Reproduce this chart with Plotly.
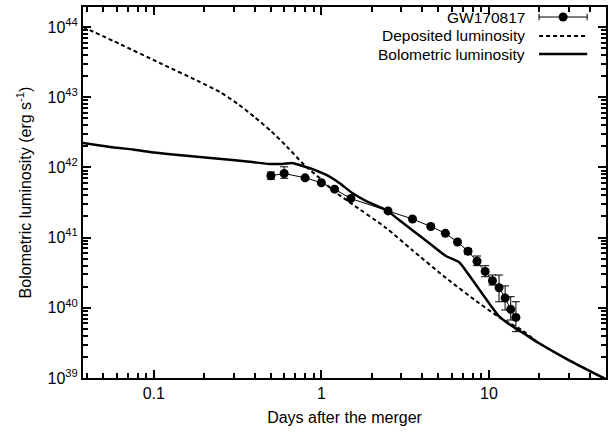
import plotly.graph_objects as go

# Observed GW170817 bolometric light curve
t_obs = [0.5, 0.6, 0.8, 1.0, 1.2, 1.5, 2.5, 3.5, 4.5, 5.5, 6.5, 7.5, 8.5, 9.5, 10.5, 11.5, 12.5, 13.5, 14.5]
L_obs = [7.6e41, 8.2e41, 7.1e41, 6.05e41, 4.9e41, 3.6e41, 2.4e41, 1.84e41, 1.44e41, 1.15e41,
         8.65e40, 6.4e40, 4.6e40, 3.3e40, 2.43e40, 1.93e40, 1.38e40, 9.5e39, 7.3e39]
L_hi = [8.6e41, 1.02e42, 7.1e41, 6.05e41, 4.9e41, 3.6e41, 2.4e41, 1.84e41, 1.44e41, 1.15e41,
        8.65e40, 7.0e40, 5.47e40, 3.98e40, 2.93e40, 2.93e40, 2.05e40, 1.44e40, 1.22e40]
L_lo = [6.77e41, 7.0e41, 7.1e41, 6.05e41, 4.9e41, 3.6e41, 2.4e41, 1.84e41, 1.44e41, 1.15e41,
        8.65e40, 5.8e40, 3.98e40, 2.77e40, 2.11e40, 1.22e40, 9.3e39, 6.7e39, 4.57e39]

# Deposited luminosity (model)
t_dep = [0.0378, 0.0628, 0.1086, 0.188, 0.25, 0.32, 0.40, 0.50, 0.62, 0.792, 1.0, 1.163, 1.468,
         2.437, 3.481, 5.546, 8.72, 11.47, 15.72, 19.84, 29.94, 50.0]
L_dep = [1.0e44, 5.72e43, 3.07e43, 1.65e43, 1.17e43, 7.9e42, 5.2e42, 3.3e42, 2.0e42, 1.08e42,
         6.7e41, 4.77e41, 3.21e41, 1.37e41, 6.66e40, 2.66e40, 1.17e40, 7.39e39, 4.83e39,
         3.15e39, 1.80e39, 0.96e39]

# Bolometric luminosity (model)
t_bol = [0.0378, 0.0477, 0.060, 0.075, 0.0947, 0.13, 0.188, 0.295, 0.388, 0.49, 0.586, 0.672,
         0.74, 0.848, 1.071, 1.28, 1.53, 1.853, 2.437, 2.912, 3.481, 4.394, 5.546, 6.628, 7.603,
         8.72, 10.0, 11.47, 13.71, 15.72, 19.84, 29.94, 50.0]
L_bol = [2.23e42, 2.05e42, 1.9e42, 1.8e42, 1.66e42, 1.53e42, 1.41e42, 1.275e42, 1.19e42,
         1.12e42, 1.12e42, 1.155e42, 1.08e42, 9.8e41, 7.8e41, 6.0e41, 4.32e41, 3.32e41,
         2.47e41, 1.78e41, 1.28e41, 8.38e40, 5.47e40, 4.49e40, 2.93e40, 1.85e40, 1.17e40,
         7.64e39, 5.5e39, 4.5e39, 3.15e39, 1.80e39, 0.96e39]

legend_labels = ["GW170817", "Deposited luminosity", "Bolometric luminosity"]

x_major = [0.1, 1, 10]
x_major_text = ["0.1", "1", "10"]
y_major = [1e39, 1e40, 1e41, 1e42, 1e43, 1e44]
y_major_text = ["10<sup>39</sup>", "10<sup>40</sup>", "10<sup>41</sup>", "10<sup>42</sup>",
                "10<sup>43</sup>", "10<sup>44</sup>"]
x_minor = [m * 10.0 ** e for e in (-2, -1, 0, 1) for m in range(2, 10)]
y_minor = [m * 10.0 ** e for e in range(39, 45) for m in range(2, 10)]

X_RANGE = [-1.4226, 1.6990]
Y_RANGE = [39, 44.285]

FONT = "Liberation Sans, Arial, sans-serif"

fig = go.Figure()

fig.add_trace(go.Scatter(
    x=t_dep, y=L_dep, mode="lines", line_shape="spline",
    line=dict(color="black", width=2, dash="4px,3px", smoothing=0.6),
    showlegend=False,
))
fig.add_trace(go.Scatter(
    x=t_bol, y=L_bol, mode="lines", line_shape="spline",
    line=dict(color="black", width=2.5, smoothing=0.6),
    showlegend=False,
))
fig.add_trace(go.Scatter(
    x=t_obs, y=L_obs, mode="lines+markers",
    line=dict(color="black", width=1),
    marker=dict(color="black", size=9),
    error_y=dict(type="data", symmetric=False,
                 array=[h - v for h, v in zip(L_hi, L_obs)],
                 arrayminus=[v - l for v, l in zip(L_obs, L_lo)],
                 color="black", thickness=1, width=4),
    showlegend=False,
))
# invisible trace that activates the overlay axes carrying the minor ticks
fig.add_trace(go.Scatter(x=[t_obs[0]], y=[L_obs[0]], xaxis="x2", yaxis="y2", mode="markers",
                         marker=dict(opacity=0), showlegend=False, hoverinfo="skip"))

# gnuplot-style legend (text right aligned, sample on the right)
rows_y = [0.973, 0.922, 0.873]
for lab, yy in zip(legend_labels, rows_y):
    fig.add_annotation(x=0.849, y=yy, xref="paper", yref="paper", text=lab,
                       showarrow=False, xanchor="right", yanchor="middle",
                       font=dict(family=FONT, size=15.5, color="black"))
x0s, x1s = 0.872, 0.964
fig.add_shape(type="line", xref="paper", yref="paper", x0=x0s, x1=x1s, y0=rows_y[0], y1=rows_y[0],
              line=dict(color="black", width=1))
for xe in (x0s, x1s):
    fig.add_shape(type="line", xref="paper", yref="paper", x0=xe, x1=xe,
                  y0=rows_y[0] - 0.009, y1=rows_y[0] + 0.009, line=dict(color="black", width=1))
fig.add_shape(type="circle", xref="paper", yref="paper", xsizemode="pixel", ysizemode="pixel",
              xanchor=(x0s + x1s) / 2, yanchor=rows_y[0], x0=-4.5, x1=4.5, y0=-4.5, y1=4.5,
              fillcolor="black", line=dict(color="black", width=0))
fig.add_shape(type="line", xref="paper", yref="paper", x0=x0s, x1=x1s, y0=rows_y[1], y1=rows_y[1],
              line=dict(color="black", width=2, dash="4px,3px"))
fig.add_shape(type="line", xref="paper", yref="paper", x0=x0s, x1=x1s, y0=rows_y[2], y1=rows_y[2],
              line=dict(color="black", width=2.5))

axis_common = dict(
    showline=True, linecolor="black", linewidth=2, mirror="allticks",
    ticks="inside", ticklen=8, tickwidth=1.5, tickcolor="#000000",
    showgrid=False, zeroline=False, automargin=False, layer="above traces",
    tickfont=dict(family=FONT, size=16, color="black"),
)
minor_common = dict(
    showline=False, mirror="allticks", ticks="inside", ticklen=5, tickwidth=1.5,
    tickcolor="#000000", layer="above traces",
    showgrid=False, zeroline=False, automargin=False, showticklabels=False, tickmode="array",
)

fig.update_layout(
    width=611, height=434,
    margin=dict(l=83, r=5, t=7, b=56),
    paper_bgcolor="white", plot_bgcolor="white",
    font=dict(family=FONT, color="black"),
    xaxis=dict(type="log", range=X_RANGE, tickvals=x_major, ticktext=x_major_text, tickmode="array",
               title=dict(text="Days after the merger",
                          font=dict(family=FONT, size=16, color="black"), standoff=11),
               **axis_common),
    yaxis=dict(type="log", range=Y_RANGE, tickvals=y_major, ticktext=y_major_text, tickmode="array",
               title=dict(text="Bolometric luminosity (erg s<sup>-1</sup>)",
                          font=dict(family=FONT, size=16, color="black"), standoff=12),
               **axis_common),
    xaxis2=dict(type="log", range=X_RANGE, overlaying="x", side="bottom", anchor="y2",
                tickvals=x_minor, **minor_common),
    yaxis2=dict(type="log", range=Y_RANGE, overlaying="y", side="left", anchor="x2",
                tickvals=y_minor, **minor_common),
)

fig.write_html("out.html")
